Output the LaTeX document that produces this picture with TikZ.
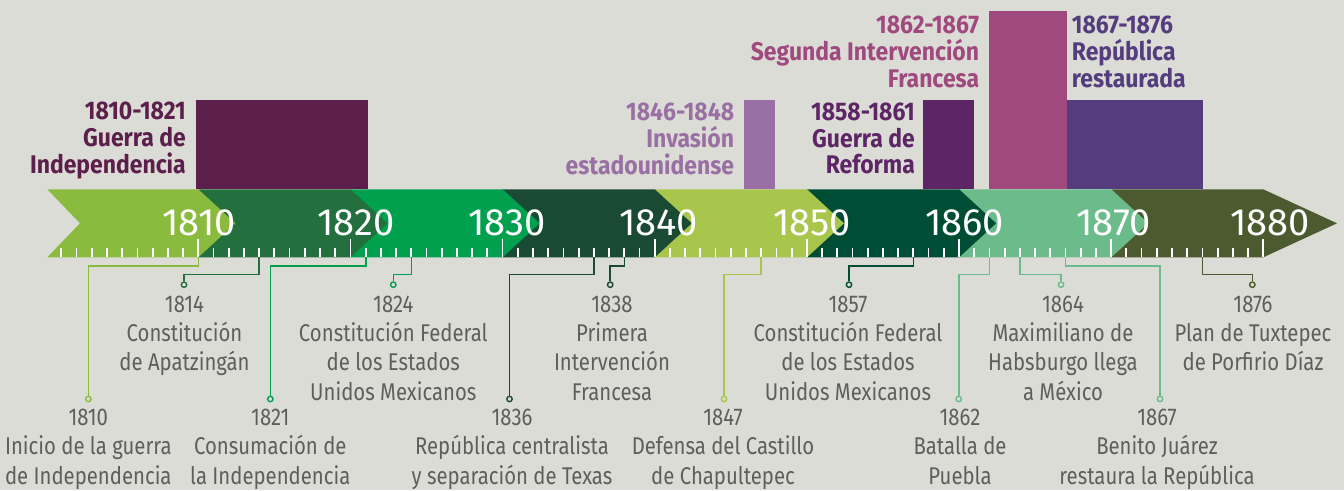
\documentclass[tikz,border=0pt]{standalone}
\usepackage{fontspec}
\setmainfont{Fira Sans}[FakeStretch=0.84,Numbers=Proportional]
\newfontfamily\yrfont{Fira Sans}[Numbers=Proportional]
\newfontfamily\perfont{Fira Sans}[FakeStretch=0.9,Numbers=Proportional]
\definecolor{bg}{HTML}{DBDCD6}
\definecolor{sA}{HTML}{8BBB3E}
\definecolor{sB}{HTML}{236F3D}
\definecolor{sC}{HTML}{00A04E}
\definecolor{sD}{HTML}{1A4A33}
\definecolor{sE}{HTML}{A9C64C}
\definecolor{sF}{HTML}{004D35}
\definecolor{sG}{HTML}{6BBB8B}
\definecolor{sH}{HTML}{4B5B2F}
\definecolor{pA}{HTML}{5C1F4B}
\definecolor{pB}{HTML}{9A70A4}
\definecolor{pC}{HTML}{5E2566}
\definecolor{pD}{HTML}{A0497F}
\definecolor{pE}{HTML}{553C7E}
\definecolor{txt}{HTML}{5D5F5E}
\begin{document}
\begin{tikzpicture}[x=1pt,y=-1pt,
  tickln/.style={white,line width=1.8pt},
  yrlbl/.style={white,anchor=base west,inner sep=0pt,font=\yrfont\fontsize{38}{40}\selectfont},
  conn/.style={line width=1.6pt},
  dot/.style={circle,draw=#1,fill=bg,line width=1.4pt,inner sep=0pt,minimum size=5.4pt},
  evlbl/.style={txt,anchor=north,align=center,inner sep=0pt,font=\fontsize{24.2}{29.3}\selectfont},
  perlbl/.style={inner sep=0pt,font=\perfont\bfseries\fontsize{25.5}{26.9}\selectfont}]
\fill[bg] (0,0) rectangle (1344,490);
\useasboundingbox (0,0) rectangle (1344,490);
% period boxes
\fill[pA] (196,100) rectangle (367.5,189.3);
\fill[pB] (744,100) rectangle (775,189.3);
\fill[pC] (923.3,100) rectangle (974,189.3);
\fill[pD] (989.3,11) rectangle (1066.7,189.3);
\fill[pE] (1066.7,100) rectangle (1202.7,189.3);
\node[perlbl,pA,anchor=north east,align=right] (p1) at (186,101.7) {1810-1821\\Guerra de\\Independencia};
\node[perlbl,pB,anchor=north east,align=right] (p2) at (734.3,102.4) {1846-1848\\Invasión\\estadounidense};
\node[perlbl,pC,anchor=north east,align=right] (p3) at (915,102.4) {1858-1861\\Guerra de\\Reforma};
\node[perlbl,pD,anchor=north east,align=right] (p4) at (979.3,15.7) {1862-1867\\Segunda Intervención\\Francesa};
\node[perlbl,pE,anchor=north west,align=left] (p5) at (1071.7,15.7) {1867-1876\\República\\restaurada};
% band segments (right to left)
\fill[sH] (1111.3,189.3) -- (1263.3,189.3) -- (1337,223.3) -- (1263.3,257.3) -- (1111.3,257.3) -- cycle;
\fill[sG] (959.1,189.3) -- (1111.3,189.3) -- (1148.3,223.3) -- (1111.3,257.3) -- (959.1,257.3) -- cycle;
\fill[sF] (807,189.3) -- (959.1,189.3) -- (996.1,223.3) -- (959.1,257.3) -- (807,257.3) -- cycle;
\fill[sE] (654.8,189.3) -- (807,189.3) -- (844,223.3) -- (807,257.3) -- (654.8,257.3) -- cycle;
\fill[sD] (502.7,189.3) -- (654.8,189.3) -- (691.8,223.3) -- (654.8,257.3) -- (502.7,257.3) -- cycle;
\fill[sC] (350.4,189.3) -- (502.7,189.3) -- (539.7,223.3) -- (502.7,257.3) -- (350.4,257.3) -- cycle;
\fill[sB] (198.3,189.3) -- (350.4,189.3) -- (387.4,223.3) -- (350.4,257.3) -- (198.3,257.3) -- cycle;
\fill[sA] (47.3,189.3) -- (198.3,189.3) -- (235.3,223.3) -- (198.3,257.3) -- (47.3,257.3) -- (80,223.3) -- cycle;
% ticks
\foreach \i in {1,...,80} {\draw[tickln] ({198.3+15.214*(\i-10)},248.3) -- ++(0,9);}
\foreach \i in {10,20,...,80} {\draw[tickln] ({198.3+15.214*(\i-10)},239.3) -- ++(0,18);}
% year labels
\node[yrlbl] (y1810) at (162,235) {1810};
\node[yrlbl] (y1820) at (317,235) {1820};
\node[yrlbl] (y1830) at (468,235) {1830};
\node[yrlbl] (y1840) at (619,235) {1840};
\node[yrlbl] (y1850) at (773,235) {1850};
\node[yrlbl] (y1860) at (925,235) {1860};
\node[yrlbl] (y1870) at (1076,235) {1870};
\node[yrlbl] (y1880) at (1230,235) {1880};
% tick anchors for events
\coordinate (t1810) at (198.3,257.3);
\coordinate (t1814) at (259.2,257.3);
\coordinate (t1821) at (365.7,257.3);
\coordinate (t1824) at (411.3,257.3);
\coordinate (t1836) at (593.9,257.3);
\coordinate (t1838) at (624.3,257.3);
\coordinate (t1847) at (761.2,257.3);
\coordinate (t1857) at (913.4,257.3);
\coordinate (t1862) at (989.4,257.3);
\coordinate (t1864) at (1019.8,257.3);
\coordinate (t1867) at (1065.5,257.3);
\coordinate (t1876) at (1202.4,257.3);
% circles
\node[dot=sA] (c1810) at (88.3,399) {};
\node[dot=sB] (c1814) at (184,284.7) {};
\node[dot=sC] (c1821) at (270.3,399) {};
\node[dot=sC] (c1824) at (393.3,284.7) {};
\node[dot=sD] (c1836) at (509.5,399) {};
\node[dot=sD] (c1838) at (610.2,284.7) {};
\node[dot=sE] (c1847) at (724,399) {};
\node[dot=sF] (c1857) at (849,284.7) {};
\node[dot=sG] (c1862) at (958.7,399) {};
\node[dot=sG] (c1864) at (1061,284.7) {};
\node[dot=sG] (c1867) at (1160,399) {};
\node[dot=sH] (c1876) at (1252.3,284.7) {};
% connectors
\draw[conn,sA] (t1810) -- ++(0,8.4) -| (c1810.north);
\draw[conn,sB] (t1814) -- ++(0,17) -| (c1814.north);
\draw[conn,sC] (t1821) -- ++(0,8.4) -| (c1821.north);
\draw[conn,sC] (t1824) -- ++(0,17) -| (c1824.north);
\draw[conn,sD] (t1836) -- ++(0,17) -| (c1836.north);
\draw[conn,sD] (t1838) -- ++(0,8.4) -| (c1838.north);
\draw[conn,sE] (t1847) -- ++(0,17) -| (c1847.north);
\draw[conn,sF] (t1857) -- ++(0,8.4) -| (c1857.north);
\draw[conn,sG] (t1862) -- ++(0,17) -| (c1862.north);
\draw[conn,sG] (t1864) -- ++(0,17) -| (c1864.north);
\draw[conn,sG] (t1867) -- ++(0,8.4) -| (c1867.north);
\draw[conn,sH] (t1876) -- ++(0,17) -| (c1876.north);
% event labels
\node[evlbl] (l1810) at (88.3,409) {1810\\Inicio de la guerra\\de Independencia};
\node[evlbl] (l1814) at (184.5,295.6) {1814\\Constitución\\de Apatzingán};
\node[evlbl] (l1821) at (270.3,409) {1821\\Consumación de\\la Independencia};
\node[evlbl] (l1824) at (393.3,295.6) {1824\\Constitución Federal\\de los Estados\\Unidos Mexicanos};
\node[evlbl] (l1836) at (512,409) {1836\\República centralista\\y separación de Texas};
\node[evlbl] (l1838) at (612,295.6) {1838\\Primera\\Intervención\\Francesa};
\node[evlbl] (l1847) at (723,409) {1847\\Defensa del Castillo\\de Chapultepec};
\node[evlbl] (l1857) at (848,295.6) {1857\\Constitución Federal\\de los Estados\\Unidos Mexicanos};
\node[evlbl] (l1862) at (960,409) {1862\\Batalla de\\Puebla};
\node[evlbl] (l1864) at (1063,295.6) {1864\\Maximiliano de\\Habsburgo llega\\a México};
\node[evlbl] (l1867) at (1157,409) {1867\\Benito Juárez\\restaura la República};
\node[evlbl] (l1876) at (1253,295.6) {1876\\Plan de Tuxtepec\\de Porfirio Díaz};
\end{tikzpicture}
\end{document}
